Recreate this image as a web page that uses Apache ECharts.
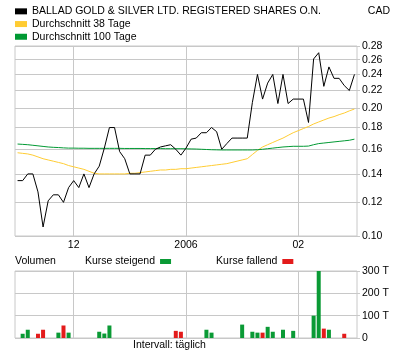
<!DOCTYPE html>
<html><head><meta charset="utf-8">
<script src="https://cdn.jsdelivr.net/npm/echarts@6/dist/echarts.min.js"></script>
<style>html,body{margin:0;padding:0;background:#fff}#c{width:400px;height:357px}</style>
</head><body><div id="c"></div>
<script>
const dates = [
 '2005-11-16','2005-11-17','2005-11-18','2005-11-21','2005-11-22','2005-11-23','2005-11-24','2005-11-25','2005-11-28','2005-11-29',
 '2005-11-30','2005-12-01','2005-12-02','2005-12-05','2005-12-06','2005-12-07','2005-12-08','2005-12-09','2005-12-12','2005-12-13',
 '2005-12-14','2005-12-15','2005-12-16','2005-12-19','2005-12-20','2005-12-21','2005-12-22','2005-12-23','2005-12-26','2005-12-27',
 '2005-12-28','2005-12-29','2005-12-30','2006-01-02','2006-01-03','2006-01-04','2006-01-05','2006-01-06','2006-01-09','2006-01-10',
 '2006-01-11','2006-01-12','2006-01-13','2006-01-16','2006-01-17','2006-01-18','2006-01-19','2006-01-20','2006-01-23','2006-01-24',
 '2006-01-25','2006-01-26','2006-01-27','2006-01-30','2006-01-31','2006-02-01','2006-02-02','2006-02-03','2006-02-06','2006-02-07',
 '2006-02-08','2006-02-09','2006-02-10','2006-02-13','2006-02-14','2006-02-15','2006-02-16'
];
const price = [
 0.135,0.135,0.140,0.140,0.127,0.105,0.121,0.125,0.125,0.120,
 0.130,0.135,0.130,0.140,0.130,0.140,0.146,0.161,0.180,0.180,
 0.158,0.152,0.140,0.140,0.140,0.155,0.155,0.160,0.162,0.163,
 0.164,0.160,0.155,0.161,0.169,0.170,0.175,0.175,0.180,0.176,
 0.160,0.165,0.170,0.170,0.170,0.170,0.206,0.240,0.210,0.229,
 0.240,0.205,0.240,0.205,0.210,0.210,0.210,0.185,0.261,0.270,
 0.225,0.250,0.235,0.235,0.226,0.220,0.240
];
const ma38 = [
 0.157,0.1565,0.156,0.155,0.1535,0.152,0.151,0.150,0.149,0.148,
 0.1465,0.1455,0.1445,0.1435,0.142,0.1405,0.140,0.140,0.140,0.140,
 0.140,0.140,0.1405,0.1405,0.141,0.1415,0.142,0.1425,0.143,0.143,
 0.1435,0.1435,0.144,0.144,0.1445,0.145,0.1455,0.146,0.1465,0.147,
 0.1475,0.148,0.149,0.150,0.151,0.152,0.1555,0.159,0.162,0.164,
 0.166,0.168,0.170,0.1725,0.175,0.177,0.179,0.181,0.1835,0.1855,
 0.1875,0.1895,0.191,0.193,0.1947,0.197,0.199
];
const ma100 = [
 0.1646,0.1643,0.1640,0.1635,0.1630,0.1625,0.1620,0.1617,0.1615,0.1612,
 0.1610,0.1610,0.1609,0.1609,0.1608,0.1608,0.1608,0.1608,0.1608,0.1608,
 0.1608,0.1607,0.1607,0.1607,0.1607,0.1606,0.1606,0.1606,0.1606,0.1605,
 0.1605,0.1605,0.1605,0.1604,0.1603,0.1602,0.1600,0.1598,0.1596,0.1595,
 0.1594,0.1594,0.1594,0.1594,0.1594,0.1594,0.1594,0.1596,0.1600,0.1605,
 0.1610,0.1615,0.1620,0.1623,0.1626,0.1626,0.1626,0.1628,0.1640,0.1650,
 0.1655,0.1660,0.1665,0.1670,0.1675,0.1680,0.1690
];
const volUp = [
 null,19000,37000,null,null,null,null,null,24000,null,
 24000,null,null,null,null,null,28000,20000,56000,null,
 null,null,null,null,null,null,null,null,null,null,
 null,null,null,null,null,null,null,37000,24000,null,
 null,null,null,null,60000,null,28000,24000,null,50000,
 28000,null,37000,null,32000,null,null,null,100000,300000,
 null,37000,null,null,null,null,null
];
const volDown = [
 null,null,null,null,19000,37000,null,null,null,56000,
 null,null,null,null,null,null,null,null,null,null,
 null,null,null,null,null,null,null,null,null,null,
 null,32000,28000,null,null,null,null,null,null,null,
 null,null,null,null,null,null,null,null,24000,null,
 null,null,null,null,null,null,null,null,null,null,
 42000,null,null,null,19000,null,null
];
const priceTicks = [0.10,0.12,0.14,0.16,0.18,0.20,0.22,0.24,0.26,0.28];
const volTicks = [0,100000,200000,300000];
const volTickLabels = ['0','100 T','200 T','300 T'];
const monthLabels = {'2005-12-01':'12','2006-01-02':'2006','2006-02-01':'02'};
const seriesNames = ['BALLAD GOLD & SILVER LTD. REGISTERED SHARES O.N.','Durchschnitt 38 Tage','Durchschnitt 100 Tage'];
const volNames = ['Kurse steigend','Kurse fallend'];

const FONT = '"Liberation Sans", Arial, sans-serif';
const GC = '#c8c8c8';
const FS = 10.5;
const C_PRICE = '#000000', C_MA38 = '#ffcc33', C_MA100 = '#009933', C_UP = '#0a9a35', C_DOWN = '#e31b1b';

const chart = echarts.init(document.getElementById('c'), null, {renderer:'canvas'});
const isMonth = (i, v) => Object.prototype.hasOwnProperty.call(monthLabels, v);

function xAxisCfg(gridIndex, showLabels) {
  return {
    type:'category', gridIndex, data:dates, boundaryGap:true,
    axisLine:{show:false}, axisTick:{show:false, alignWithLabel:true, interval:isMonth},
    axisLabel:{show:showLabels, interval:isMonth, formatter:v => monthLabels[v] || '',
      fontSize:FS, fontFamily:FONT, color:'#000', margin:4},
    splitLine:{show:true, interval:isMonth, alignWithLabel:true, lineStyle:{color:GC, width:1}}
  };
}

const option = {
  animation:false,
  textStyle:{fontFamily:FONT},
  grid:[
    {left:15, right:43, top:46, height:190, show:true, borderColor:GC, borderWidth:1},
    {left:15, right:43, top:271, height:67, show:true, borderColor:GC, borderWidth:1}
  ],
  legend:[
    {orient:'vertical', left:15, top:5, padding:0, itemWidth:12, itemHeight:6, itemGap:0,
     selectedMode:false, icon:'rect',
     data:seriesNames.map(n => ({name:n, icon:'rect'})),
     textStyle:{fontSize:FS, fontFamily:FONT, color:'#000', lineHeight:12.7}},
    {orient:'horizontal', left:85, top:256, padding:0, itemWidth:11, itemHeight:5, itemGap:45,
     align:'right', selectedMode:false, icon:'rect',
     data:volNames.map(n => ({name:n, icon:'rect'})),
     textStyle:{fontSize:FS, fontFamily:FONT, color:'#000'}}
  ],
  xAxis:[xAxisCfg(0, true), xAxisCfg(1, false)],
  yAxis:[
    {type:'log', logBase:10, gridIndex:0, position:'right', min:0.1, max:0.28,
     axisLine:{show:false},
     axisTick:{show:true, length:3, customValues:priceTicks, lineStyle:{color:GC}},
     axisLabel:{customValues:priceTicks, formatter:v => Number(v).toFixed(2), fontSize:FS, fontFamily:FONT, color:'#000', margin:5},
     splitLine:{show:true, customValues:priceTicks, lineStyle:{color:GC, width:1}}},
    {type:'value', gridIndex:1, position:'right', min:volTicks[0], max:volTicks[volTicks.length-1], interval:volTicks[1]-volTicks[0],
     axisLine:{show:false},
     axisTick:{show:true, length:3, lineStyle:{color:GC}},
     axisLabel:{formatter:v => volTickLabels[volTicks.indexOf(v)] ?? '', fontSize:FS, fontFamily:FONT, color:'#000', margin:5},
     splitLine:{show:true, lineStyle:{color:GC, width:1}}}
  ],
  graphic:[
    {type:'text', right:10, top:6, style:{text:'CAD', font:`${FS}px ${FONT}`, fill:'#000'}},
    {type:'text', left:15, top:256, style:{text:'Volumen', font:`${FS}px ${FONT}`, fill:'#000'}},
    {type:'text', left:133, top:340, style:{text:'Intervall: täglich', font:`${FS}px ${FONT}`, fill:'#000'}}
  ],
  series:[
    {name:seriesNames[1], type:'line', xAxisIndex:0, yAxisIndex:0, data:ma38, symbol:'none', silent:true,
     lineStyle:{color:C_MA38, width:1}, itemStyle:{color:C_MA38}, z:2},
    {name:seriesNames[2], type:'line', xAxisIndex:0, yAxisIndex:0, data:ma100, symbol:'none', silent:true,
     lineStyle:{color:C_MA100, width:1}, itemStyle:{color:C_MA100}, z:2},
    {name:seriesNames[0], type:'line', xAxisIndex:0, yAxisIndex:0, data:price, symbol:'none', silent:true,
     lineStyle:{color:C_PRICE, width:1}, itemStyle:{color:C_PRICE}, z:3},
    {name:volNames[0], type:'bar', xAxisIndex:1, yAxisIndex:1, data:volUp, barWidth:4, barGap:'-100%', silent:true,
     itemStyle:{color:C_UP}},
    {name:volNames[1], type:'bar', xAxisIndex:1, yAxisIndex:1, data:volDown, barWidth:4, barGap:'-100%', silent:true,
     itemStyle:{color:C_DOWN}}
  ]
};
chart.setOption(option);
</script>
</body></html>
